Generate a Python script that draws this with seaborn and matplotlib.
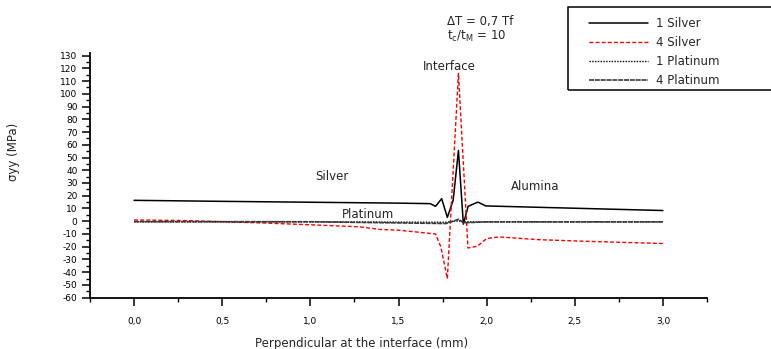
import matplotlib
matplotlib.use("Agg")
import matplotlib.pyplot as plt
from matplotlib.patches import Rectangle
from matplotlib.ticker import MultipleLocator, FuncFormatter
import seaborn as sns
import numpy as np
import pandas as pd

# ---- data ----
x_silver1 = [0.0, 0.5, 1.0, 1.5, 1.68, 1.71, 1.745, 1.777, 1.81, 1.84, 1.868, 1.895, 1.95, 1.995, 2.5, 3.0]
y_silver1 = [16.4, 15.6, 14.9, 14.2, 13.8, 11.7, 17.7, 3.0, 16.4, 55.5, -2.3, 11.7, 15.0, 12.0, 10.2, 8.4]

x_silver4 = [0.0, 0.3, 0.72, 1.0, 1.28, 1.4, 1.5, 1.71, 1.74, 1.777, 1.84, 1.894, 1.947, 2.0, 2.07, 2.3, 2.53, 3.0]
y_silver4 = [1.0, 0.5, -1.3, -2.8, -4.4, -6.5, -7.0, -10.0, -20.0, -45.0, 116.0, -21.0, -19.6, -13.6, -12.3, -14.5, -15.6, -17.5]

x_plat1 = [0.0, 1.0, 1.77, 1.84, 1.87, 2.0, 3.0]
y_plat1 = [-0.5, -0.5, -0.8, 0.3, -0.5, -0.5, -0.5]

x_plat4 = [0.0, 1.0, 1.77, 1.84, 1.87, 2.0, 3.0]
y_plat4 = [-0.3, -0.4, -1.8, 1.5, -1.2, -0.5, -0.5]

labels = ["1 Silver", "4 Silver", "1 Platinum", "4 Platinum"]

W, H = 771, 349
sns.set_style("ticks")
plt.rcParams["font.family"] = ["DejaVu Sans"]
plt.rcParams["mathtext.default"] = "regular"

fig = plt.figure(figsize=(W / 100, H / 100), dpi=100)
ax_l, ax_r, ax_t, ax_b = 90, 707, 53, 297.7
ax = fig.add_axes([ax_l / W, 1 - ax_b / H, (ax_r - ax_l) / W, (ax_b - ax_t) / H])

sns.lineplot(x=x_silver1, y=y_silver1, ax=ax, color="black", lw=1.1, label=labels[0], sort=False, estimator=None)
sns.lineplot(x=x_silver4, y=y_silver4, ax=ax, color="red", lw=1.0, label=labels[1], sort=False, estimator=None,
             linestyle=(0, (2.8, 1.6)))
sns.lineplot(x=x_plat1, y=y_plat1, ax=ax, color="black", lw=1.0, label=labels[2], sort=False, estimator=None,
             linestyle=(0, (1, 1)))
sns.lineplot(x=x_plat4, y=y_plat4, ax=ax, color="#3a3a3a", lw=1.2, label=labels[3], sort=False, estimator=None,
             linestyle=(0, (3, 0.5)))

ax.set_xlim(-0.25, 3.25)
ax.set_ylim(-60, 132)
sns.despine(ax=ax)
for s in ["left", "bottom"]:
    ax.spines[s].set_linewidth(1.3)
    ax.spines[s].set_color("black")

ax.xaxis.set_major_locator(MultipleLocator(0.5))
ax.xaxis.set_minor_locator(MultipleLocator(0.25))
ax.yaxis.set_major_locator(MultipleLocator(10))
ax.yaxis.set_minor_locator(MultipleLocator(5))
ax.xaxis.set_major_formatter(FuncFormatter(lambda v, p: f"{v:.1f}".replace(".", ",")))
ax.yaxis.set_major_formatter(FuncFormatter(lambda v, p: f"{int(round(v))}"))
ax.tick_params(axis="both", which="major", direction="out", length=6, width=1.1, labelsize=6.5, colors="black", pad=3)
ax.tick_params(axis="both", which="minor", direction="out", length=3, width=1.0, colors="black")
ax.tick_params(axis="x", which="major", pad=8)

ax.set_xlabel("Perpendicular at the interface (mm)", fontsize=8.5)
ax.set_ylabel("σyy (MPa)", fontsize=8.5)
ax.xaxis.set_label_coords((362 - ax_l) / (ax_r - ax_l), -(337 - ax_b) / (ax_b - ax_t))
ax.yaxis.set_label_coords(-(ax_l - 20) / (ax_r - ax_l), (ax_b - 152) / (ax_b - ax_t))

# legend
leg = ax.legend(loc="upper left", bbox_to_anchor=(589 / W, 1 - 17 / H), bbox_transform=fig.transFigure,
                frameon=False, fontsize=8.5, handlelength=5.0, handletextpad=0.7, labelspacing=0.5,
                borderpad=0, borderaxespad=0)
fig.add_artist(Rectangle((567.7 / W, 1 - 89.7 / H), 0.4, (89.7 - 7.3) / H, transform=fig.transFigure,
                         fill=False, edgecolor="black", lw=1.1, clip_on=False))

def ftext(px, py, s, ha="center", **kw):
    fig.text(px / W, 1 - py / H, s, ha=ha, va="center", fontsize=8.5, **kw)

ftext(447, 21, "ΔT = 0,7 Tf", ha="left")
ftext(447, 36, "t$_c$/t$_M$ = 10", ha="left")
ftext(449, 66, "Interface")
ftext(332, 177, "Silver")
ftext(535, 186, "Alumina")
ftext(368, 214, "Platinum")

fig.savefig("out.png", dpi=100)
